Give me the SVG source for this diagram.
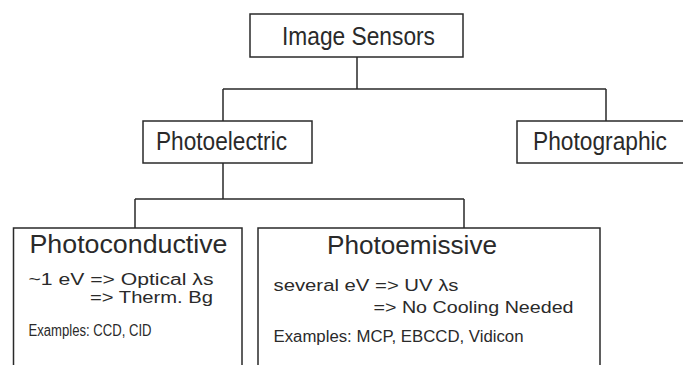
<svg xmlns="http://www.w3.org/2000/svg" width="683" height="365" viewBox="0 0 683 365">
<style>
.box{fill:#fff;stroke:#2a2a2a;stroke-width:1.5}
.conn{fill:none;stroke:#2a2a2a;stroke-width:1.5}
text{font-family:"Liberation Sans",Arial,sans-serif;fill:#2a2a2a}
.h1{font-size:25.5px}
.h2{font-size:26.5px}
.sm{font-size:16px}
</style>
<rect width="683" height="365" fill="#fff"/>
<g id="connectors" class="conn">
<path d="M357,57V89M223,89H606M223,89V121M606,89V121"/>
<path d="M223,163V199M135,199H464M135,199V228M464,199V228"/>
</g>
<g id="image-sensors">
<rect class="box" x="250" y="14" width="213" height="43"/>
<text class="h1" x="282" y="44.5" textLength="153" lengthAdjust="spacingAndGlyphs">Image Sensors</text>
</g>
<g id="photoelectric">
<rect class="box" x="143" y="121" width="169" height="42"/>
<text class="h1" x="156" y="150" textLength="131" lengthAdjust="spacingAndGlyphs">Photoelectric</text>
</g>
<g id="photographic">
<rect class="box" x="517" y="121" width="175" height="42"/>
<text class="h1" x="533" y="150" textLength="134" lengthAdjust="spacingAndGlyphs">Photographic</text>
</g>
<g id="photoconductive">
<rect class="box" x="13.5" y="228" width="228.5" height="150"/>
<text class="h2" x="29.5" y="253" textLength="198" lengthAdjust="spacingAndGlyphs">Photoconductive</text>
<text class="sm" x="28.5" y="285" textLength="185" lengthAdjust="spacingAndGlyphs">~1 eV =&gt; Optical λs</text>
<text class="sm" x="90" y="302.5" textLength="123" lengthAdjust="spacingAndGlyphs">=&gt; Therm. Bg</text>
<text class="sm" x="28.5" y="336" textLength="123" lengthAdjust="spacingAndGlyphs">Examples: CCD, CID</text>
</g>
<g id="photoemissive">
<rect class="box" x="258" y="228" width="342" height="150"/>
<text class="h2" x="327" y="254" textLength="170" lengthAdjust="spacingAndGlyphs">Photoemissive</text>
<text class="sm" x="273.5" y="291" textLength="185" lengthAdjust="spacingAndGlyphs">several eV =&gt; UV λs</text>
<text class="sm" x="373.5" y="313" textLength="200" lengthAdjust="spacingAndGlyphs">=&gt; No Cooling Needed</text>
<text class="sm" x="273.5" y="342" textLength="250" lengthAdjust="spacingAndGlyphs">Examples: MCP, EBCCD, Vidicon</text>
</g>
</svg>
